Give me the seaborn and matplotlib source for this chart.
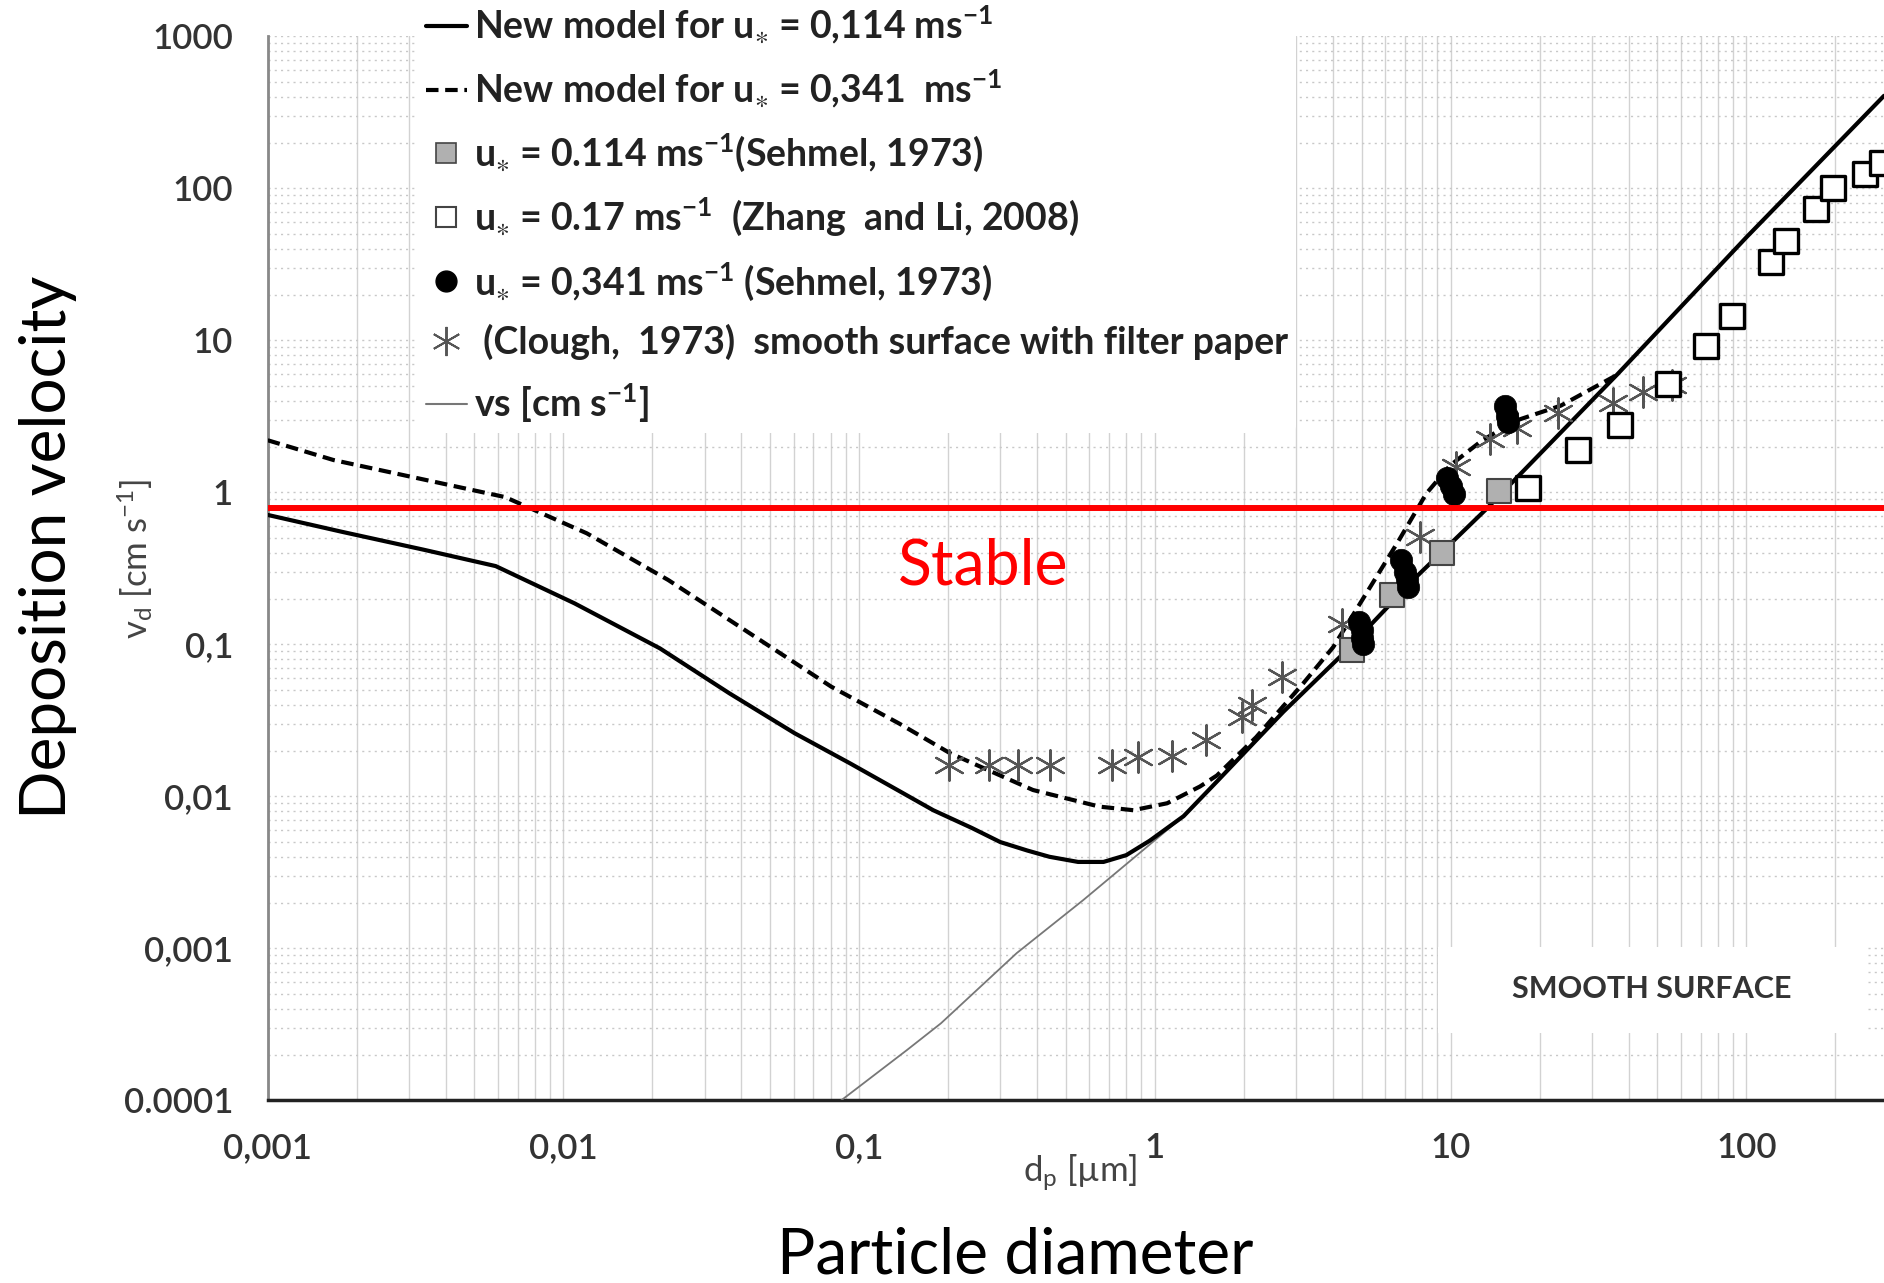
import matplotlib
matplotlib.use("Agg")
import matplotlib.pyplot as plt
import seaborn as sns
import numpy as np
from matplotlib.lines import Line2D
from matplotlib.patches import Rectangle
from matplotlib.ticker import LogLocator, NullFormatter
import matplotlib.transforms as mtransforms

# Curvas do modelo
model_lo_x = [0.001, 0.00178, 0.00335, 0.0059, 0.0109, 0.0212, 0.0364, 0.0605, 0.093, 0.137,
              0.178, 0.24, 0.30, 0.37, 0.44, 0.55, 0.67, 0.80, 0.96, 1.25, 1.62, 2.72, 4.34,
              7.67, 13.2, 36.4, 100, 292]
model_lo_y = [0.71, 0.55, 0.42, 0.327, 0.186, 0.094, 0.0476, 0.026, 0.0165, 0.0108,
              0.0081, 0.0062, 0.0050, 0.0044, 0.0040, 0.0037, 0.0037, 0.0041, 0.0051, 0.0074,
              0.0125, 0.036, 0.087, 0.279, 0.776, 5.9, 47.6, 406]

model_hi_x = [0.001, 0.00167, 0.00635, 0.012, 0.0226, 0.0427, 0.0805, 0.137, 0.203, 0.387,
              0.65, 0.845, 1.10, 1.42, 1.62, 2.2, 3.18, 4.01, 5.62, 6.69, 8.27, 9.95, 12.8,
              16.7, 23.6, 36.4]
model_hi_y = [2.2, 1.63, 0.93, 0.537, 0.265, 0.118, 0.0526, 0.030, 0.0192, 0.011,
              0.00855, 0.0081, 0.009, 0.0116, 0.0137, 0.0245, 0.0556, 0.096, 0.279, 0.485,
              0.98, 1.5, 2.2, 2.97, 3.72, 5.9]

vs_x = [0.087, 0.145, 0.189, 0.341, 0.573, 0.914, 1.25]
vs_y = [0.0001, 0.000214, 0.000321, 0.00093, 0.00208, 0.00444, 0.0074]

# Dados experimentais
sehmel_lo_x = [4.63, 6.33, 9.33, 14.6]
sehmel_lo_y = [0.092, 0.211, 0.40, 1.02]

zhang_x = [18.3, 27.0, 37.4, 54.5, 73.1, 89.5, 121.4, 136, 172, 196, 251, 287]
zhang_y = [1.06, 1.9, 2.77, 5.15, 9.14, 14.5, 32.7, 45, 73.5, 101, 124, 147]

sehmel_hi_x = [4.9, 5.0, 5.0, 5.05, 6.8, 7.0, 7.1, 7.2, 9.7, 10.0, 10.3, 15.3, 15.5, 15.6]
sehmel_hi_y = [0.14, 0.125, 0.11, 0.10, 0.36, 0.30, 0.27, 0.24, 1.25, 1.1, 0.97, 3.7, 3.2, 2.9]

clough_x = [0.202, 0.274, 0.345, 0.442, 0.714, 0.879, 1.14, 1.49, 1.97, 2.13, 2.68, 4.3,
            7.9, 10.4, 13.6, 16.7, 23.0, 35.5, 44.8, 56]
clough_y = [0.0161, 0.0161, 0.0161, 0.0161, 0.0161, 0.0182, 0.0185, 0.0234, 0.0334, 0.040,
            0.061, 0.135, 0.51, 1.47, 2.25, 2.64, 3.3, 3.85, 4.6, 5.1]

stable_level = 0.79

x_ticks = [0.001, 0.01, 0.1, 1, 10, 100]
x_labels = ["0,001", "0,01", "0,1", "1", "10", "100"]
y_ticks = [0.0001, 0.001, 0.01, 0.1, 1, 10, 100, 1000]
y_labels = ["0.0001", "0,001", "0,01", "0,1", "1", "10", "100", "1000"]

legend_labels = [
    r"New model for u$_{\ast}$ = 0,114 ms$^{-1}$",
    r"New model for u$_{\ast}$ = 0,341  ms$^{-1}$",
    r"u$_{\ast}$ = 0.114 ms$^{-1}$(Sehmel, 1973)",
    r"u$_{\ast}$ = 0.17 ms$^{-1}$  (Zhang  and Li, 2008)",
    r"u$_{\ast}$ = 0,341 ms$^{-1}$ (Sehmel, 1973)",
    " (Clough,  1973)  smooth surface with filter paper",
    r"vs [cm s$^{-1}$]",
]

sns.set_style("white")
plt.rcParams["font.family"] = ["Lato", "DejaVu Sans"]
plt.rcParams["mathtext.fontset"] = "custom"
plt.rcParams["mathtext.rm"] = "Lato"
plt.rcParams["mathtext.it"] = "Lato:italic"
plt.rcParams["mathtext.bf"] = "Lato:bold"
plt.rcParams["mathtext.default"] = "regular"

fig = plt.figure(figsize=(18.84, 12.83), dpi=100)
ax = fig.add_axes([0.1421, 0.1424, 0.8579, 0.8293])

asterisk = (6, 2, 0)

sns.lineplot(x=vs_x, y=vs_y, ax=ax, color="#777777", linewidth=1.3, sort=False, zorder=3)
sns.lineplot(x=model_lo_x, y=model_lo_y, ax=ax, color="black", linewidth=3.0, sort=False, zorder=4)
sns.lineplot(x=model_hi_x, y=model_hi_y, ax=ax, color="black", linewidth=3.0, sort=False,
             linestyle=(0, (3, 1.6)), zorder=4)

sns.scatterplot(x=clough_x, y=clough_y, ax=ax, marker=asterisk, s=480, color="#555555",
                linewidth=1.6, zorder=5)
sns.scatterplot(x=sehmel_lo_x, y=sehmel_lo_y, ax=ax, marker="s", s=280, color="#b0b0b0",
                edgecolor="#444444", linewidth=1.5, zorder=6)
sns.scatterplot(x=zhang_x, y=zhang_y, ax=ax, marker="s", s=280, color="white",
                edgecolor="black", linewidth=2.4, zorder=6)
sns.scatterplot(x=sehmel_hi_x, y=sehmel_hi_y, ax=ax, marker="o", s=260, color="black",
                edgecolor="black", linewidth=0.5, zorder=7)

ax.axhline(stable_level, color="red", linewidth=4.3, zorder=8)

ax.set_xscale("log")
ax.set_yscale("log")
ax.set_xlim(0.001, 292)
ax.set_ylim(0.0001, 1000)

ax.set_xticks(x_ticks, x_labels)
ax.set_yticks(y_ticks, y_labels)
ax.xaxis.set_minor_locator(LogLocator(base=10, subs=np.arange(2, 10), numticks=20))
ax.yaxis.set_minor_locator(LogLocator(base=10, subs=np.arange(2, 10), numticks=20))
ax.xaxis.set_minor_formatter(NullFormatter())
ax.yaxis.set_minor_formatter(NullFormatter())

ax.tick_params(axis="x", which="major", direction="inout", length=14, width=1.5,
               color="#333333", labelsize=25, labelcolor="#333333", pad=16)
ax.tick_params(axis="x", which="minor", direction="in", length=7, width=1.2, color="#333333")
ax.tick_params(axis="y", which="major", direction="inout", length=14, width=1.5,
               color="#666666", labelsize=25, labelcolor="#333333", pad=18)
ax.tick_params(axis="y", which="minor", direction="in", length=6, width=2.2, color="#555555")
for lab in ax.get_xticklabels() + ax.get_yticklabels():
    lab.set_fontweight("semibold")

ax.set_axisbelow(True)
ax.grid(True, which="both", axis="x", color="#d2d2d2", linewidth=1.0)
ax.grid(True, which="both", axis="y", color="#c8c8c8", linewidth=1.0, linestyle=(0, (1.5, 3)))

for side in ["top", "right"]:
    ax.spines[side].set_visible(False)
ax.spines["left"].set_color("#888888")
ax.spines["left"].set_linewidth(2.0)
ax.spines["bottom"].set_color("#222222")
ax.spines["bottom"].set_linewidth(2.5)

ax.set_xlabel("")
ax.set_ylabel("")

# caixa SMOOTH SURFACE
ax.add_patch(Rectangle((0.724, 0.063), 0.264, 0.081, transform=ax.transAxes,
                       facecolor="white", edgecolor="none", zorder=2))
ax.text(0.856, 0.105, "SMOOTH SURFACE", transform=ax.transAxes, ha="center", va="center",
        fontsize=22, fontweight="bold", color="#333333", zorder=3)

ax.text(0.262, 0.323, "Stable", color="red", fontsize=45, ha="center", va="center", zorder=9)

trans = mtransforms.blended_transform_factory(ax.transData, ax.transAxes)
ax.text(0.56, -0.068, r"d$_p$ [µm]", transform=trans, ha="center", va="center",
        fontsize=25, color="#444444")
ax.text(-0.082, 0.509, r"v$_d$ [cm s$^{-1}$]", transform=ax.transAxes, rotation=90,
        ha="center", va="center", fontsize=25, color="#444444")

fig.text(0.0255, 0.5737, "Deposition velocity", rotation=90, ha="center", va="center",
         fontsize=46, color="black")
fig.text(0.5387, 0.0211, "Particle diameter", ha="center", va="center",
         fontsize=46, color="black")

handles = [
    Line2D([], [], color="black", linewidth=3.0),
    Line2D([], [], color="black", linewidth=3.0, linestyle=(0, (3, 1.6))),
    Line2D([], [], marker="s", linestyle="", markersize=15, markerfacecolor="#b0b0b0",
           markeredgecolor="#444444", markeredgewidth=1.2),
    Line2D([], [], marker="s", linestyle="", markersize=15, markerfacecolor="white",
           markeredgecolor="#444444", markeredgewidth=1.5),
    Line2D([], [], marker="o", linestyle="", markersize=15, color="black"),
    Line2D([], [], marker=asterisk, linestyle="", markersize=21, color="#555555",
           markeredgewidth=1.4),
    Line2D([], [], color="#777777", linewidth=1.5),
]
leg = ax.legend(handles, legend_labels, loc="upper left", bbox_to_anchor=(0.2219, 1.003),
                bbox_transform=fig.transFigure, borderaxespad=0, borderpad=0.2,
                frameon=True, facecolor="white", edgecolor="none", framealpha=1,
                fontsize=27, labelspacing=0.57, handlelength=1.1, handletextpad=0.2)
for t in leg.get_texts():
    t.set_fontweight("bold")
    t.set_color("#222222")
leg.set_zorder(10)

fig.savefig("out.png", dpi=100)
